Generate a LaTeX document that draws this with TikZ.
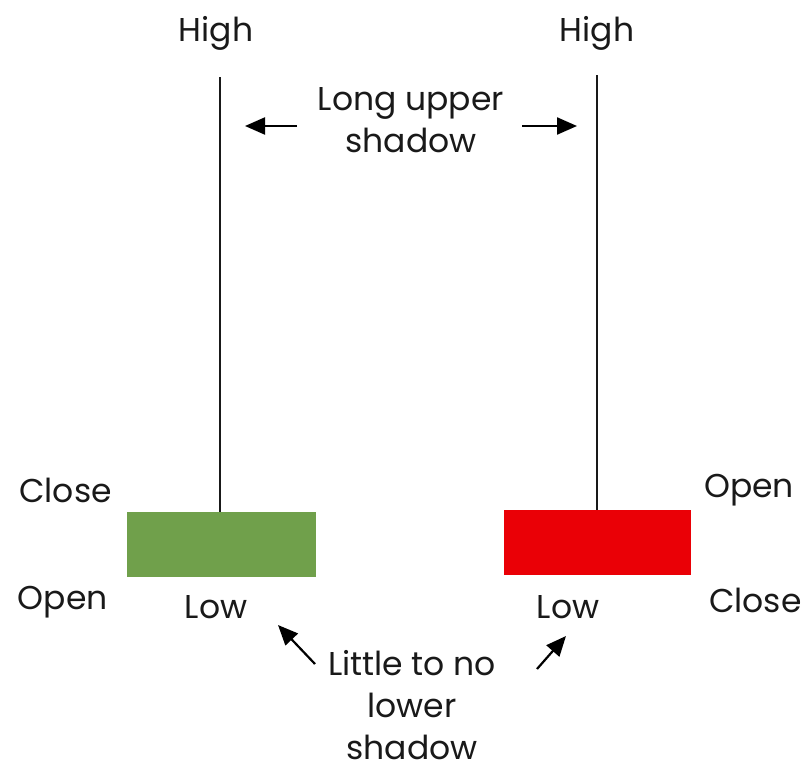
\documentclass[tikz,border=0pt]{standalone}
\usepackage{fontspec}
\setmainfont{Poppins}
\usetikzlibrary{arrows.meta}
\definecolor{bull}{RGB}{112,160,75}
\definecolor{bear}{RGB}{234,0,6}
\begin{document}
\begin{tikzpicture}[x=1pt,y=-1pt,
  lbl/.style={font=\fontsize{33}{42}\selectfont, text=black!90, inner sep=0pt, align=center},
  wick/.style={draw=black!90, line width=1.8pt},
  pointer/.style={draw=black, line width=2.2pt, -{Triangle[length=20pt,width=17pt]}}]
\useasboundingbox (0,0) rectangle (806,771);
% bodies
\node[fill=bull, minimum width=189pt, minimum height=65pt, inner sep=0pt, anchor=north west] (gbody) at (127,512) {};
\node[fill=bear, minimum width=187pt, minimum height=65pt, inner sep=0pt, anchor=north west] (rbody) at (504,510) {};
% wicks
\coordinate (gtop) at (220,77);
\coordinate (rtop) at (597,75);
\draw[wick] (gtop) -- (gtop |- gbody.north);
\draw[wick] (rtop) -- (rtop |- rbody.north);
% labels
\node[lbl] (high1) at (216,33) {High};
\node[lbl] (high2) at (597,33) {High};
\node[lbl] (upper) at (411,120) {Long upper\\shadow};
\node[lbl, anchor=east] (close1) at (112,490) {Close};
\node[lbl, anchor=east] (open1) at (108,602) {Open};
\node[lbl] (low1) at (216,607) {Low};
\node[lbl, anchor=west] (open2) at (704,490) {Open};
\node[lbl, anchor=west] (close2) at (709,600) {Close};
\node[lbl] (low2) at (568,607) {Low};
\node[lbl] (lower) at (412,705) {Little to no\\lower\\shadow};
% pointers
\coordinate (a1s) at (297,126); \coordinate (a1e) at (245,126);
\coordinate (a2s) at (522,126); \coordinate (a2e) at (577,126);
\coordinate (a3s) at (315,664); \coordinate (a3e) at (278,625);
\coordinate (a4s) at (537,669); \coordinate (a4e) at (566,636);
\draw[pointer] (a1s) -- (a1e);
\draw[pointer] (a2s) -- (a2e);
\draw[pointer] (a3s) -- (a3e);
\draw[pointer] (a4s) -- (a4e);
\end{tikzpicture}
\end{document}
